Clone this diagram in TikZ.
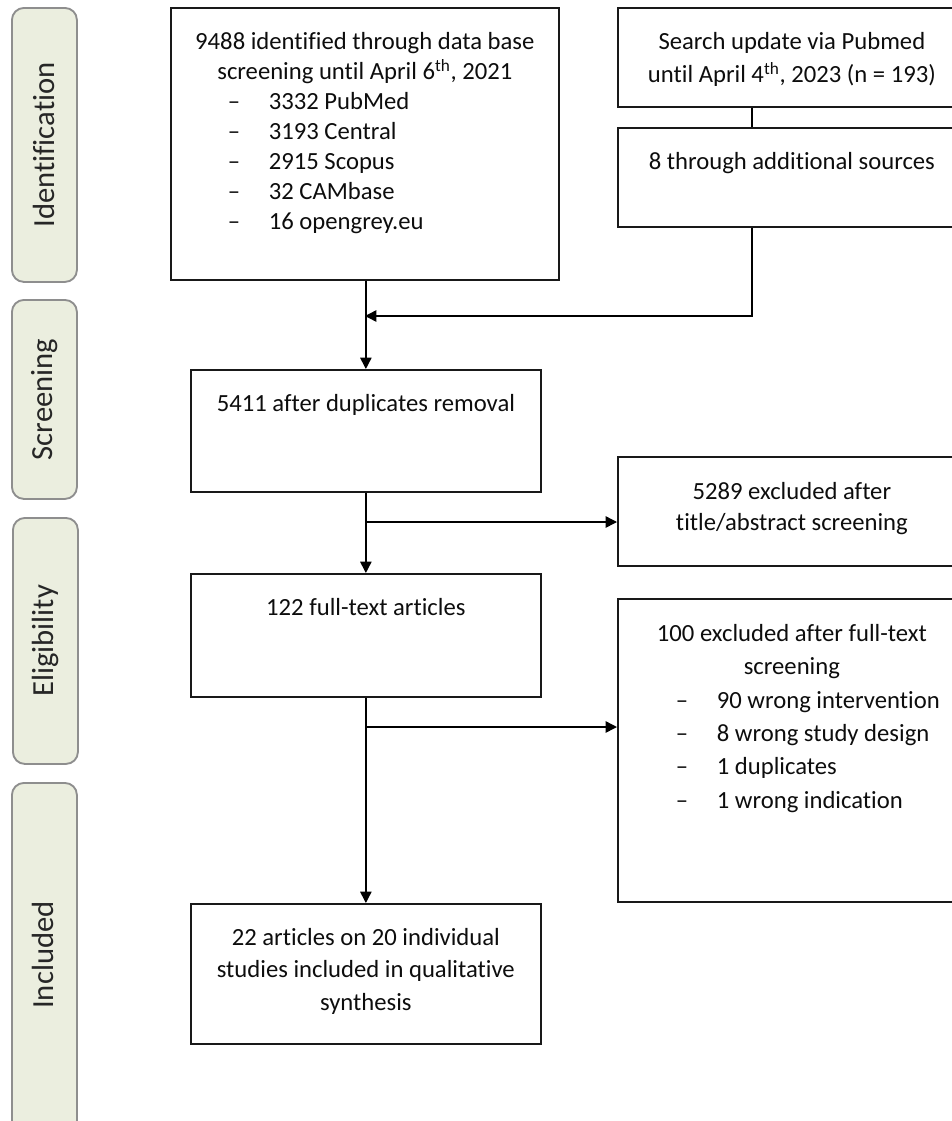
\documentclass[tikz,border=0pt]{standalone}
\usepackage{fontspec}
\setmainfont{Carlito}[Ligatures={TeX,NoCommon}]
\usepackage{xcolor}
\usetikzlibrary{arrows.meta,positioning}

\definecolor{barfill}{HTML}{EBEEDF}
\definecolor{barline}{HTML}{8E8E8E}

\tikzset{
  box/.style={draw=black!90, line width=1.3pt, inner sep=0pt, anchor=north west},
  bar/.style={draw=barline, fill=barfill, line width=1.4pt, rounded corners=9pt,
    inner sep=0pt, anchor=north west, minimum width=48.75pt},
  txt/.style={inner sep=0pt, align=center, text=black!95, font=\fontsize{18.5}{24.75}\selectfont},
  phase/.style={rotate=90, inner sep=0pt, text=black!85, font=\fontsize{23}{27}\selectfont},
  arr/.style={-{Triangle[length=8.5pt,width=8.5pt]}, line width=1.1pt},
  lnk/.style={line width=1.1pt}
}
% Listenzeile mit Strich
\newcommand{\itm}[2]{\makebox[#1][l]{\makebox[30.75pt][l]{–}#2}}

\begin{document}
\begin{tikzpicture}[x=0.75pt, y=-0.75pt]
  \useasboundingbox (0,0) rectangle (952,1121);

  % Phasen links
  \node[bar, minimum height=205.5pt] (idbar) at (11,7) {};
  \node[bar, minimum height=149.25pt] (scbar) at (11,299) {};
  \node[bar, minimum height=184.5pt] (elbar) at (12,517) {};
  \node[bar, minimum height=262.5pt] (inbar) at (11,782) {};
  \node[phase] (idlab) at (idbar.center) {Identification};
  \node[phase] (sclab) at (scbar.center) {Screening};
  \node[phase] (ellab) at (elbar.center) {Eligibility};
  \node[phase] (inlab) at (43,955) {Included};

  % Kaesten
  \node[box, minimum width=291pt, minimum height=204pt] (db) at (170,7) {};
  \node[box, minimum width=261pt, minimum height=74.25pt] (upd) at (617,7) {};
  \node[box, minimum width=261pt, minimum height=74.25pt] (add) at (617,127) {};
  \node[box, minimum width=262.5pt, minimum height=91.5pt] (dup) at (190,369) {};
  \node[box, minimum width=261pt, minimum height=81.75pt] (tas) at (617,456) {};
  \node[box, minimum width=262.5pt, minimum height=92.25pt] (ft) at (190,573) {};
  \node[box, minimum width=261pt, minimum height=227.25pt] (fte) at (617,598) {};
  \node[box, minimum width=262.5pt, minimum height=105pt] (inc) at (190,903) {};

  % Texte
  \node[txt, font=\fontsize{18.5}{22.5}\selectfont, below=18.75pt of db.north] (dbt)
    {9488 identified through data base\\
     screening until April 6\textsuperscript{th}, 2021\\
     \itm{205.5pt}{3332 PubMed}\\
     \itm{205.5pt}{3193 Central}\\
     \itm{205.5pt}{2915 Scopus}\\
     \itm{205.5pt}{32 CAMbase}\\
     \itm{205.5pt}{16 opengrey.eu}};
  \node[txt, below=18.75pt of upd.north] (updt)
    {Search update via Pubmed\\ until April 4\textsuperscript{th}, 2023 (n = 193)};
  \node[txt, below=18.75pt of add.north] (addt) {8 through additional sources};
  \node[txt, below=18.75pt of dup.north] (dupt) {5411 after duplicates removal};
  \node[txt, font=\fontsize{18.5}{23.25}\selectfont, below=19.5pt of tas.north] (tast)
    {5289 excluded after\\ title/abstract screening};
  \node[txt, below=18.75pt of ft.north] (ftt) {122 full-text articles};
  \node[txt, font=\fontsize{18.5}{25}\selectfont, below=19.5pt of fte.north] (ftet)
    {100 excluded after full-text\\
     screening\\
     \itm{174pt}{90 wrong intervention}\\
     \itm{174pt}{8 wrong study design}\\
     \itm{174pt}{1 duplicates}\\
     \itm{174pt}{1 wrong indication}};
  \node[txt, font=\fontsize{18.5}{24.4}\selectfont, below=18.75pt of inc.north] (inct)
    {22 articles on 20 individual\\ studies included in qualitative\\ synthesis};

  % Verbindungen
  \coordinate (lk) at (752,0);
  \coordinate (mrg) at (365,316);
  \coordinate (br1) at (365,522);
  \coordinate (br2) at (365,727);
  \draw[arr] (db.south -| dup.north) -- (dup.north);
  \draw[lnk] (upd.south -| lk) -- (add.north -| lk);
  \draw[arr] (add.south -| lk) |- (mrg);
  \draw[arr] (dup.south) -- (ft.north);
  \draw[arr] (br1) -- (br1 -| tas.west);
  \draw[arr] (ft.south) -- (inc.north);
  \draw[arr] (br2) -- (br2 -| fte.west);
\end{tikzpicture}
\end{document}
